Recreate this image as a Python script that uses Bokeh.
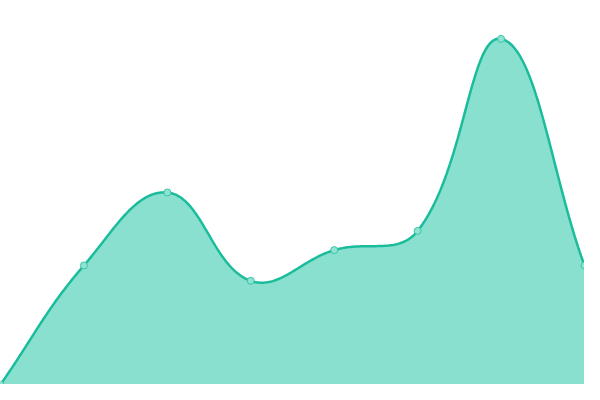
import numpy as np
from bokeh.plotting import figure
from bokeh.models import Range1d
from bokeh.embed import file_html
from bokeh.resources import INLINE

# Data
x_index = [0, 1, 2, 3, 4, 5, 6, 7]
values = [0, 31, 50, 27, 35, 40, 90, 31]

W, H = 584, 384
Y_MAX = 100
LINE_COLOR = "#1abc9c"
FILL_COLOR = "#89e0cf"

p = figure(width=W, height=H, output_backend="svg", toolbar_location=None,
           x_range=Range1d(0, 7), y_range=Range1d(0, Y_MAX),
           min_border=0, min_border_left=0, min_border_right=0,
           min_border_top=0, min_border_bottom=0)
p.axis.visible = False
p.grid.visible = False
p.outline_line_color = None
p.background_fill_color = "white"
p.border_fill_color = "white"

# Chart.js-style spline (tension 0.4), computed in screen pixel space
sx = W / 7.0
sy = H / float(Y_MAX)
pts = np.array([[xi * sx, v * sy] for xi, v in zip(x_index, values)], dtype=float)
n = len(pts)
tension = 0.4
cps = []
for i in range(n):
    prev = pts[i - 1] if i > 0 else pts[i]
    cur = pts[i]
    nxt = pts[i + 1] if i < n - 1 else pts[i]
    d01 = np.hypot(*(cur - prev))
    d12 = np.hypot(*(nxt - cur))
    s = d01 + d12
    fa = tension * d01 / s if s else 0
    fb = tension * d12 / s if s else 0
    cp1 = cur - fa * (nxt - prev)
    cp2 = cur + fb * (nxt - prev)
    cp1[1] = np.clip(cp1[1], 0, H)
    cp2[1] = np.clip(cp2[1], 0, H)
    cps.append((cp1, cp2))

curve = []
t = np.linspace(0, 1, 60)
for i in range(n - 1):
    P0 = pts[i]
    P1 = cps[i][1]
    P2 = cps[i + 1][0]
    P3 = pts[i + 1]
    seg = ((1 - t) ** 3)[:, None] * P0 + (3 * (1 - t) ** 2 * t)[:, None] * P1 \
        + (3 * (1 - t) * t ** 2)[:, None] * P2 + (t ** 3)[:, None] * P3
    if i > 0:
        seg = seg[1:]
    curve.append(seg)
curve = np.vstack(curve)
cx = curve[:, 0] / sx
cy = curve[:, 1] / sy

p.varea(x=cx, y1=np.zeros_like(cy), y2=cy, fill_color=FILL_COLOR, fill_alpha=1.0)
p.line(x=cx, y=cy, line_color=LINE_COLOR, line_width=2.5)
p.scatter(x=x_index, y=values, size=7, fill_color="#8fe3d3",
          line_color="#3cc4a6", line_width=1)

open("out.html", "w").write(file_html(p, INLINE))
